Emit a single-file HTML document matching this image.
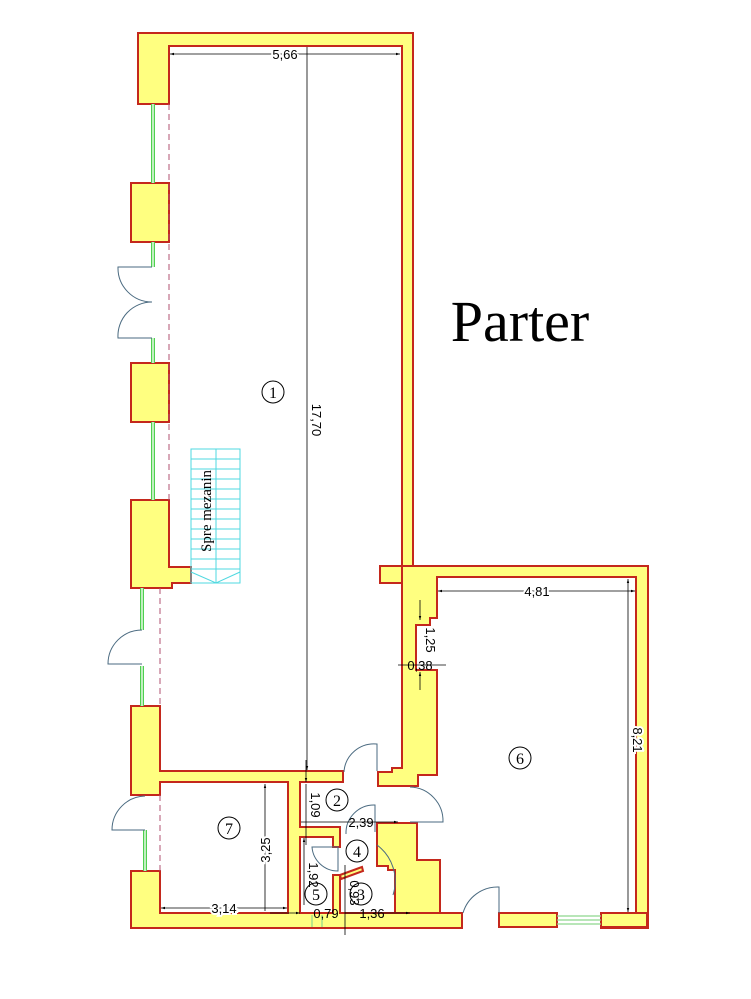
<!DOCTYPE html>
<html><head><meta charset="utf-8"><style>
html,body{margin:0;padding:0;background:#fff;}
svg{display:block}
</style></head><body>
<svg width="751" height="999" viewBox="0 0 751 999" xmlns="http://www.w3.org/2000/svg">
<defs>
<marker id="a" viewBox="0 0 10 10" refX="10" refY="5" markerWidth="7" markerHeight="5" orient="auto-start-reverse"><path d="M0,2 L10,5 L0,8z" fill="#000"/></marker>
</defs>
<g fill="#ffff80" stroke="#c4281c" stroke-width="2" stroke-linejoin="miter">
<polygon points="138,33 413,33 413,566 380,566 380,583 402,583 402,46 169,46 169,104 138,104"/>
<polygon points="402,583 402,566 413,566 648,566 648,928 601,928 601,913 636,913 636,577 437,577 437,618 430,618 430,625 416,625 416,670 437,670 437,775 418,775 418,786 378,786 378,772 392,772 392,768 402,768"/>
<rect x="131" y="183" width="38" height="59"/>
<rect x="131" y="363" width="38" height="59"/>
<polygon points="131,500 169,500 169,567 191,567 191,583 172,583 172,588 131,588"/>
<polygon points="131,706 160,706 160,771 343,771 343,782 300,782 300,827 340,827 340,847 333,847 333,837 300,837 300,913 333,913 333,875 340,875 340,913 378,913 378,913 462,913 462,928 131,928 131,871 160,871 160,913 288,913 288,782 160,782 160,795 131,795"/>
<polygon points="377,823 417,823 417,860 440,860 440,913 395,913 395,870 388,870 388,866 377,866"/>
<rect x="499" y="913" width="58" height="14"/>
<rect x="601" y="913" width="46" height="14"/>
<polygon points="340,875 362,867 363,871 341,879"/>
</g>
<g stroke="#8ed88e" stroke-width="1.2">
<line x1="557" y1="916" x2="601" y2="916"/><line x1="557" y1="920" x2="601" y2="920"/><line x1="557" y1="924" x2="601" y2="924"/>
<line x1="312" y1="915" x2="312" y2="927"/><line x1="322" y1="915" x2="322" y2="927"/>
</g>
<g stroke="#4fd04f" stroke-width="4" fill="none">
<line x1="153" y1="104" x2="153" y2="183"/>
<line x1="153" y1="242" x2="153" y2="267"/>
<line x1="153" y1="338" x2="153" y2="363"/>
<line x1="153" y1="422" x2="153" y2="500"/>
<line x1="142" y1="588" x2="142" y2="630"/>
<line x1="142" y1="666" x2="142" y2="706"/>
<line x1="145" y1="830" x2="145" y2="871"/>
</g>
<g stroke="#fff" stroke-width="1.3">
<line x1="153" y1="104" x2="153" y2="183"/><line x1="153" y1="242" x2="153" y2="267"/><line x1="153" y1="338" x2="153" y2="363"/><line x1="153" y1="422" x2="153" y2="500"/><line x1="142" y1="588" x2="142" y2="630"/><line x1="142" y1="666" x2="142" y2="706"/><line x1="145" y1="830" x2="145" y2="871"/>
</g>
<g stroke="#b05070" stroke-width="1" stroke-dasharray="6,4">
<line x1="169" y1="104" x2="169" y2="500"/>
<line x1="160" y1="588" x2="160" y2="706"/>
<line x1="160" y1="795" x2="160" y2="871"/>
</g>
<g stroke="#4a6a80" stroke-width="1" fill="none">
<path d="M152,267 L118,267 A34,34 0 0 0 152,302 A34,34 0 0 0 118,338 L152,338"/>
<path d="M142,630 A34,34 0 0 0 108,664 L142,664"/>
<path d="M145,796 A34,34 0 0 0 112,830 L145,830"/>
<path d="M377,771 L377,744 A30,30 0 0 0 344,772"/>
<path d="M410,787 A34,34 0 0 1 443,822 L410,822"/>
<path d="M375,832 L375,805 A28,28 0 0 0 346,834"/>
<path d="M312,847 A26,26 0 0 0 338,871 L338,847z"/>
<path d="M377,845 A45,45 0 0 1 393,895"/>
<path d="M499,913 L499,887 A36,36 0 0 0 463,913"/>
</g>
<g stroke="#4fd8e0" stroke-width="1" fill="none">
<rect x="191" y="449" width="49" height="134"/>
<line x1="216" y1="449" x2="216" y2="583"/>
<path d="M191,459H240M191,469H240M191,479H240M191,489H240M191,499H240M191,509H240M191,519H240M191,529H240M191,539H240M191,549H240M191,559H240M191,569H240"/>
<path d="M191,572 L216,583 L240,572"/>
</g>
<text x="0" y="0" transform="translate(211,552) rotate(-90)" font-family="Liberation Serif,serif" font-size="15" fill="#000">Spre mezanin</text>
<g stroke="#000" stroke-width="0.8" fill="none">
<line x1="170" y1="54" x2="400" y2="54" marker-start="url(#a)" marker-end="url(#a)"/>
<line x1="307" y1="47" x2="307" y2="770" marker-end="url(#a)"/>
<line x1="438" y1="591" x2="635" y2="591" marker-start="url(#a)" marker-end="url(#a)"/>
<line x1="628" y1="579" x2="628" y2="912" marker-start="url(#a)" marker-end="url(#a)"/>
<line x1="265" y1="784" x2="265" y2="911" marker-start="url(#a)"/>
<line x1="161" y1="908" x2="287" y2="908" marker-start="url(#a)" marker-end="url(#a)"/>
<line x1="301" y1="822" x2="398" y2="822" marker-end="url(#a)"/>
<line x1="306" y1="760" x2="306" y2="782" marker-end="url(#a)"/>
<line x1="306" y1="784" x2="306" y2="845"/>
<line x1="304" y1="838" x2="304" y2="905" marker-start="url(#a)"/>
<line x1="345" y1="865" x2="345" y2="935"/>
<line x1="270" y1="913" x2="300" y2="913" marker-end="url(#a)"/>
<line x1="345" y1="913" x2="410" y2="913" marker-end="url(#a)"/>
<line x1="420" y1="600" x2="420" y2="620" marker-end="url(#a)"/>
<line x1="420" y1="690" x2="420" y2="672" marker-end="url(#a)"/>
<line x1="398" y1="665" x2="446" y2="665"/>
</g>
<g font-family="Liberation Sans,sans-serif" font-size="13" fill="#000" text-anchor="middle">
<text x="285" y="59" style="paint-order:stroke" stroke="#fff" stroke-width="4">5,66</text>
<text x="537" y="596" style="paint-order:stroke" stroke="#fff" stroke-width="4">4,81</text>
<text transform="translate(312,420) rotate(90)" style="paint-order:stroke" stroke="#fff" stroke-width="4">17,70</text>
<text transform="translate(633,740) rotate(90)" style="paint-order:stroke" stroke="#fff" stroke-width="4">8,21</text>
<text transform="translate(270,850) rotate(-90)" style="paint-order:stroke" stroke="#fff" stroke-width="4">3,25</text>
<text x="224" y="913" style="paint-order:stroke" stroke="#fff" stroke-width="4">3,14</text>
<text x="361" y="827">2,39</text>
<text transform="translate(311,805) rotate(90)">1,09</text>
<text transform="translate(309,875) rotate(90)">1,92</text>
<text transform="translate(350,893) rotate(90)">0,93</text>
<text x="326" y="918">0,79</text>
<text x="372" y="918">1,36</text>
<text transform="translate(426,640) rotate(90)">1,25</text>
<text x="420" y="670">0,38</text>
</g>
<g fill="none" stroke="#000" stroke-width="1">
<circle cx="273" cy="392" r="11"/><circle cx="520" cy="758" r="11"/><circle cx="229" cy="828" r="11"/>
<circle cx="337" cy="800" r="11"/><circle cx="357" cy="851" r="11"/><circle cx="361" cy="894" r="11"/><circle cx="316" cy="894" r="11"/>
</g>
<g font-family="Liberation Serif,serif" font-size="16" fill="#000" text-anchor="middle">
<text x="273" y="398">1</text><text x="520" y="764">6</text><text x="229" y="834">7</text>
<text x="337" y="806">2</text><text x="357" y="857">4</text><text x="361" y="900">3</text><text x="316" y="900">5</text>
</g>
<text x="520" y="341" font-family="Liberation Serif,serif" font-size="58" fill="#000" text-anchor="middle">Parter</text>
</svg>
</body></html>
